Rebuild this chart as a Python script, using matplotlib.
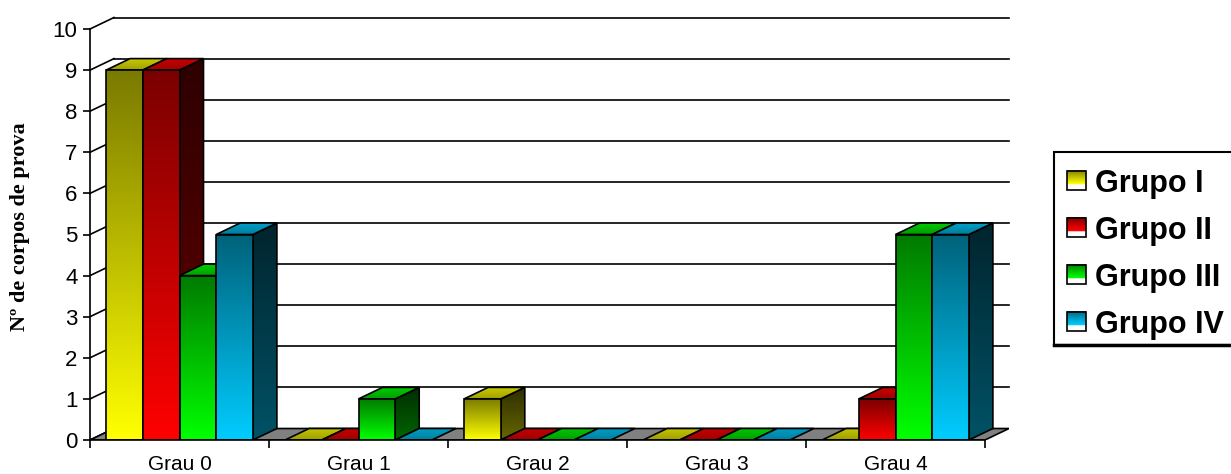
import numpy as np
import matplotlib
matplotlib.use('Agg')
import matplotlib.pyplot as plt
from matplotlib.patches import Polygon, Rectangle

plt.rcParams['font.family'] = ['Liberation Sans', 'DejaVu Sans']

categorias = ['Grau 0', 'Grau 1', 'Grau 2', 'Grau 3', 'Grau 4']
grupos = ['Grupo I', 'Grupo II', 'Grupo III', 'Grupo IV']
grupo_1 = [9, 0, 1, 0, 0]
grupo_2 = [9, 0, 0, 0, 1]
grupo_3 = [4, 1, 0, 0, 5]
grupo_4 = [5, 0, 0, 0, 5]
valores = [grupo_1, grupo_2, grupo_3, grupo_4]
cores = [(1.0, 1.0, 0.0), (1.0, 0.0, 0.0), (0.0, 1.0, 0.0), (0.0, 0.8, 1.0)]
y_ticks = list(range(0, 11))

# profundidade do efeito 3D (unidades de categoria / valor)
DX = 24 / 179
DY = 11.5 / 41.1
LARG = 0.205   # largura de cada barra
MARG = 0.09    # margem dentro da categoria
LW = 1.2

fig = plt.figure(figsize=(12.31, 4.74), dpi=100)
ax = fig.add_axes([90 / 1231, 34 / 474, 919 / 1231, 422.5 / 474])

z = [2.0]
def prox():
    z[0] += 0.01
    return z[0]

def face(verts, base, k_baixo, k_cima):
    verts = np.array(verts, dtype=float)
    xmin, ymin = verts.min(axis=0)
    xmax, ymax = verts.max(axis=0)
    t = np.linspace(0, 1, 64)[:, None, None]
    arr = np.array(base)[None, None, :] * (k_baixo + (k_cima - k_baixo) * t)
    zz = prox()
    poly = Polygon(verts, closed=True, facecolor='none', edgecolor='black',
                   lw=LW, joinstyle='miter', zorder=zz + 0.005)
    ax.add_patch(poly)
    im = ax.imshow(np.clip(arr, 0, 1), extent=[xmin, xmax, ymin, ymax], origin='lower',
                   aspect='auto', interpolation='bilinear', zorder=zz)
    im.set_clip_path(poly)

n = len(categorias)

# parede de fundo e linhas de grade
for v in y_ticks[1:]:
    ax.plot([DX, n + DX], [v + DY, v + DY], color='black', lw=LW, zorder=1, clip_on=False)
for v in y_ticks:
    ax.plot([0, DX], [v, v + DY], color='black', lw=LW, zorder=1, clip_on=False)

# chao
ax.add_patch(Polygon([(0, 0), (n, 0), (n + DX, DY), (DX, DY)], closed=True,
                     facecolor='#808080', edgecolor='black', lw=LW, zorder=1.5))

# barras
for i in range(n):
    for g in range(len(grupos)):
        h = valores[g][i]
        x0 = i + MARG + g * LARG
        x1 = x0 + LARG
        base = cores[g]
        if h == 0:
            face([(x0, 0), (x1, 0), (x1 + DX, DY), (x0 + DX, DY)], base, 0.62, 0.78)
            continue
        face([(x1, 0), (x1 + DX, DY), (x1 + DX, h + DY), (x1, h)], base, 0.4, 0.18)
        face([(x0, h), (x1, h), (x1 + DX, h + DY), (x0 + DX, h + DY)], base, 0.62, 0.8)
        face([(x0, 0), (x1, 0), (x1, h), (x0, h)], base, 1.0, 0.48)

ax.set_xlim(0, n + DX)
ax.set_ylim(0, 10 + DY)

for s in ['top', 'right']:
    ax.spines[s].set_visible(False)
ax.spines['left'].set_bounds(0, 10)
ax.spines['bottom'].set_bounds(0, n)
ax.spines['left'].set_linewidth(LW)
ax.spines['bottom'].set_linewidth(LW)
ax.spines['left'].set_zorder(5)
ax.spines['bottom'].set_zorder(5)

ax.set_yticks(y_ticks)
ax.set_yticklabels([str(v) for v in y_ticks])
ax.set_xticks(range(n + 1))
ax.set_xticklabels([])
ax.set_xticks([i + 0.5 for i in range(n)], minor=True)
ax.set_xticklabels(categorias, minor=True)
ax.tick_params(axis='y', length=5, width=LW, labelsize=16, pad=4)
ax.tick_params(axis='x', which='major', length=6, width=LW)
ax.tick_params(axis='x', which='minor', length=0, labelsize=15, pad=11)

fig.text(20 / 1231, 1 - 227 / 474, 'Nº de corpos de prova', rotation=90,
         ha='center', va='center', fontsize=16, fontweight='bold',
         family=['Liberation Serif', 'DejaVu Serif'])

# legenda
lax = fig.add_axes([1054 / 1231, (474 - 345) / 474, 186 / 1231, 193 / 474])
lax.set_xlim(0, 186)
lax.set_ylim(193, 0)
lax.axis('off')
lax.add_patch(Rectangle((0, 0), 186, 193, facecolor='white', edgecolor='black', lw=1.5, clip_on=False))
lax.plot([0, 186], [193, 193], color='black', lw=2.5, clip_on=False)
for k, nome in enumerate(grupos):
    yc = 28 + k * 47
    t = np.linspace(0, 1, 40)[:, None, None]
    arr = np.array(cores[k])[None, None, :] * (0.5 + 0.5 * np.clip(t / 0.72, 0, 1))
    arr[t[:, 0, 0] > 0.75] = 1.0
    lax.imshow(arr, extent=[13, 32, yc + 9.5, yc - 9.5], origin='upper',
               aspect='auto', interpolation='bilinear', zorder=2)
    lax.add_patch(Rectangle((13, yc - 9.5), 19, 19, facecolor='none', edgecolor='black',
                            lw=1.2, zorder=3))
    lax.text(41, yc + 12, nome, fontsize=22, fontweight='bold', va='baseline', ha='left')
lax.set_xlim(0, 186)
lax.set_ylim(193, 0)

fig.savefig('out.png', dpi=100)
